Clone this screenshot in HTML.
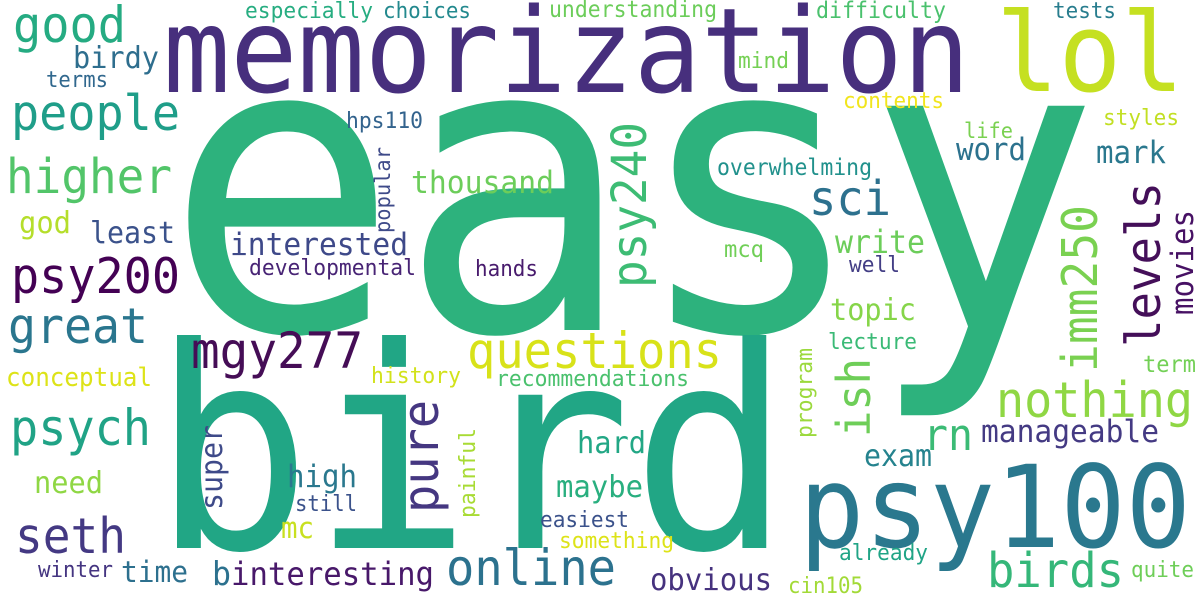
<!DOCTYPE html>
<html>
<head>
<meta charset="utf-8">
<style>
html,body{margin:0;padding:0;background:#fff;}
svg{display:block;}
text{font-family:"DejaVu Sans Mono","Liberation Mono",monospace;}
</style>
</head>
<body>
<svg id="cloud" width="1200" height="600" viewBox="0 0 1200 600" xmlns="http://www.w3.org/2000/svg">
<rect width="1200" height="600" fill="#ffffff"/>
</svg>
<script>
// word, x-start, x-end (or y-top,y-bottom for vertical), baseline, color, vertical flag
const words = ["easy","bird","memorization","lol","psy100","questions","birds","nothing","online","seth","psych","great","psy200","higher","people","good","mgy277","levels","imm250","psy240","sci","pure","ish","rn","birdy","terms","especially","choices","understanding","difficulty","tests","mind","contents","hps110","popular","thousand","god","least","interested","developmental","hands","word","life","mark","styles","overwhelming","movies","write","mcq","well","topic","lecture","term","manageable","exam","program","hard","maybe","easiest","something","already","quite","cin105","obvious","b","interesting","winter","time","still","high","super","painful","mc","need","conceptual","history","recommendations"];
const starts = [165,152,163,996,799,467,987,996,446,15,10,8,11,6,11,13,191,182,205,122,809,400,358,923,73,46,245,383,549,816,1053,738,843,346,147,411,19,90,230,249,475,956,964,1096,1103,717,210,835,724,849,830,828,1143,981,864,348,577,556,540,559,839,1131,788,650,212,231,38,121,295,287,425,428,281,34,6,371,496];
const ends = [1100,791,970,1184,1191,722,1124,1193,616,126,151,148,180,172,180,126,363,347,372,288,891,513,437,973,159,108,373,471,717,946,1116,789,944,423,233,554,71,175,408,416,538,1026,1013,1166,1179,872,315,925,764,900,916,917,1196,1159,932,438,646,643,629,674,928,1194,863,772,231,434,113,188,357,357,510,518,314,103,152,461,689];
const baselines = [330,548,92,91,547,368,587,417,585,553,445,343,293,193,130,42,368,1160,1097,646,215,438,870,450,68,87,18,18,17,18,18,68,108,128,390,193,233,243,255,275,276,160,138,163,125,175,1193,253,257,272,320,349,372,442,466,812,453,497,527,548,560,577,593,590,585,585,577,582,511,487,222,475,538,493,386,383,386];
const colors = ["#2db27d","#21a685","#472f7d","#c5e021","#2a788e","#d8e219","#35b779","#8fd744","#2c728e","#443983","#20a386","#2a768e","#440154","#52c569","#1f9e89","#25ab82","#450d56","#440f59","#7ad151","#3dbc74","#2d718e","#453781","#6ece58","#3bbb75","#2e6e8e","#31688e","#27ad81","#23898e","#6ccd5a","#4ac16d","#287d8e","#75d054","#f1e51d","#33638d","#3e4a89","#6ccd5a","#b5de2b","#3b528b","#3e4989","#482475","#481b6d","#2c728e","#7ad151","#2a788e","#c2df23","#21918c","#471164","#6ccd5a","#70cf57","#433e85","#86d549","#3aba76","#73d056","#443a83","#25838e","#9bd93c","#22a785","#29af7f","#3b528b","#dde318","#20a486","#6ece58","#a2da37","#46327e","#2c718e","#48186a","#453581","#2d708e","#3b528b","#2a788e","#3e4a89","#a8db34","#c8e020","#8fd744","#dde318","#d2e21b","#4ac16d"];
const vertical = ["levels","imm250","psy240","pure","ish","program","movies","popular","super","painful"];

const svg = document.getElementById('cloud');
const NS = 'http://www.w3.org/2000/svg';
for (let i = 0; i < words.length; i++) {
  const w = words[i];
  const len = ends[i] - starts[i];
  const fs = (len / w.length) / 0.57;
  const t = document.createElementNS(NS, 'text');
  
  
  t.setAttribute('font-size', fs.toFixed(1));
  t.setAttribute('fill', colors[i]);
  t.setAttribute('textLength', len);
  t.setAttribute('lengthAdjust', 'spacingAndGlyphs');
  if (vertical.includes(w)) {
    t.setAttribute('x', 0);
    t.setAttribute('y', 0);
    t.setAttribute('transform', 'translate(' + baselines[i] + ',' + ends[i] + ') rotate(-90)');
  } else {
    t.setAttribute('x', starts[i]);
    t.setAttribute('y', baselines[i]);
  }
  t.textContent = w;
  svg.appendChild(t);
}
</script>
</body>
</html>
